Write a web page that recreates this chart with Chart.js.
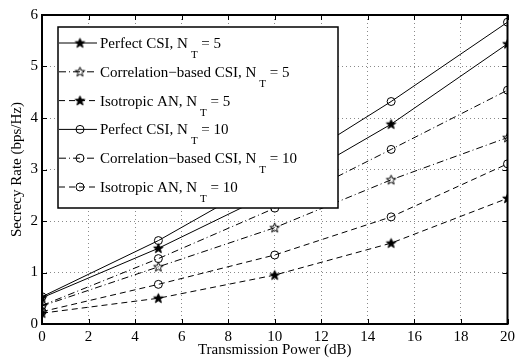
<!DOCTYPE html>
<html>
<head>
<meta charset="utf-8">
<script src="https://cdn.jsdelivr.net/npm/chart.js@4.4.0/dist/chart.umd.min.js"></script>
<style>
  html, body { margin: 0; padding: 0; background: #fff; }
  #contenedor { width: 519px; height: 358px; position: relative; }
</style>
</head>
<body>
<div id="contenedor"><canvas id="grafico"></canvas></div>
<script>
// Datos (potencia en dB, tasa en bps/Hz)
const potencia = [0, 5, 10, 15, 20];
const perfecto5 = [0.51, 1.47, 2.57, 3.88, 5.44];
const correlacion5 = [0.35, 1.11, 1.87, 2.80, 3.62];
const isotropico5 = [0.21, 0.50, 0.95, 1.57, 2.44];
const perfecto10 = [0.53, 1.62, 2.90, 4.32, 5.86];
const correlacion10 = [0.36, 1.27, 2.25, 3.39, 4.54];
const isotropico10 = [0.24, 0.77, 1.34, 2.08, 3.11];

const ticksX = [0, 2, 4, 6, 8, 10, 12, 14, 16, 18, 20];
const ticksY = [0, 1, 2, 3, 4, 5, 6];

const nombres = ['Perfect CSI', 'Correlation\u2212based CSI', 'Isotropic AN',
                 'Perfect CSI', 'Correlation\u2212based CSI', 'Isotropic AN'];
const antenas = ['5', '5', '5', '10', '10', '10'];

const FUENTE = "'Liberation Serif', 'Times New Roman', serif";
const LINEA_PUNTO = [7, 3, 1, 3];
const GUIONES = [6, 4];

// Estrella de cinco puntas (pentagram de MATLAB)
function crearEstrella(relleno) {
    const c = document.createElement('canvas');
    c.width = 13; c.height = 13;
    const g = c.getContext('2d');
    g.beginPath();
    for (let i = 0; i < 10; i++) {
        const r = i % 2 === 0 ? 5.0 : 2.1;
        const a = -Math.PI / 2 + i * Math.PI / 5;
        const px = 6.5 + r * Math.cos(a), py = 6.8 + r * Math.sin(a);
        if (i === 0) g.moveTo(px, py); else g.lineTo(px, py);
    }
    g.closePath();
    if (relleno) { g.fillStyle = '#000'; g.fill(); }
    g.strokeStyle = '#000'; g.lineWidth = 1; g.stroke();
    return c;
}
const estrellaLlena = crearEstrella(true);
const estrellaVacia = crearEstrella(false);

function serie(valores, dash, marcador) {
    return {
        data: potencia.map((x, i) => ({ x: x, y: valores[i] })),
        borderColor: '#000',
        borderWidth: 1,
        borderDash: dash,
        backgroundColor: 'rgba(0,0,0,0)',
        pointStyle: marcador,
        pointRadius: 4,
        pointBorderColor: '#000',
        pointBackgroundColor: 'rgba(0,0,0,0)',
        pointBorderWidth: 1,
        tension: 0
    };
}

const datasets = [
    serie(perfecto5, [], estrellaLlena),
    serie(correlacion5, LINEA_PUNTO, estrellaVacia),
    serie(isotropico5, GUIONES, estrellaLlena),
    serie(perfecto10, [], 'circle'),
    serie(correlacion10, LINEA_PUNTO, 'circle'),
    serie(isotropico10, GUIONES, 'circle')
];

// Marco y marcas interiores estilo MATLAB
const marcoPlugin = {
    id: 'marco',
    afterDatasetsDraw(chart) {
        const { ctx, chartArea: a, scales } = chart;
        ctx.save();
        ctx.strokeStyle = '#000';
        ctx.lineWidth = 1;
        ticksX.forEach(v => {
            const px = Math.round(scales.x.getPixelForValue(v)) + 0.5;
            ctx.beginPath();
            ctx.moveTo(px, a.bottom); ctx.lineTo(px, a.bottom - 5);
            ctx.moveTo(px, a.top); ctx.lineTo(px, a.top + 5);
            ctx.stroke();
        });
        ticksY.forEach(v => {
            const py = Math.round(scales.y.getPixelForValue(v)) + 0.5;
            ctx.beginPath();
            ctx.moveTo(a.left, py); ctx.lineTo(a.left + 5, py);
            ctx.moveTo(a.right, py); ctx.lineTo(a.right - 5, py);
            ctx.stroke();
        });
        ctx.lineWidth = 2;
        ctx.strokeRect(a.left, a.top, a.right - a.left, a.bottom - a.top);
        ctx.restore();
    }
};

// Leyenda con subíndice N_T
const leyendaPlugin = {
    id: 'leyendaCaja',
    afterDraw(chart) {
        const { ctx, chartArea: a } = chart;
        const izq = a.left + 16, arriba = a.top + 12;
        const ancho = 280, alto = 181, paso = 28.8;
        ctx.save();
        ctx.fillStyle = '#fff';
        ctx.fillRect(izq, arriba, ancho, alto);
        ctx.strokeStyle = '#000';
        ctx.lineWidth = 1.5;
        ctx.strokeRect(izq, arriba, ancho, alto);

        datasets.forEach((ds, i) => {
            const y = arriba + 16 + i * paso;
            ctx.lineWidth = 1;
            ctx.setLineDash(ds.borderDash);
            ctx.beginPath();
            ctx.moveTo(izq + 1, y); ctx.lineTo(izq + 39, y);
            ctx.stroke();
            ctx.setLineDash([]);
            const mx = izq + 22;
            if (ds.pointStyle === 'circle') {
                ctx.beginPath();
                ctx.arc(mx, y, 4, 0, Math.PI * 2);
                ctx.stroke();
            } else {
                ctx.drawImage(ds.pointStyle, mx - 6.5, y - 6.5);
            }

            ctx.fillStyle = '#000';
            ctx.textBaseline = 'alphabetic';
            ctx.textAlign = 'left';
            let tx = izq + 42;
            const base = y + 5;
            ctx.font = '15px ' + FUENTE;
            const t1 = nombres[i] + ', N';
            ctx.fillText(t1, tx, base);
            tx += ctx.measureText(t1).width + 3;
            ctx.font = '11px ' + FUENTE;
            ctx.fillText('T', tx, base + 10);
            tx += ctx.measureText('T').width;
            ctx.font = '15px ' + FUENTE;
            ctx.fillText(' = ' + antenas[i], tx, base);
        });
        ctx.restore();
    }
};

const ctx = document.getElementById('grafico').getContext('2d');
const miGrafico = new Chart(ctx, {
    type: 'line',
    data: { datasets: datasets },
    options: {
        responsive: true,
        maintainAspectRatio: false,
        animation: false,
        layout: { padding: { left: 0, top: 15, right: 7, bottom: 0 } },
        plugins: {
            legend: { display: false },
            tooltip: { enabled: false }
        },
        scales: {
            x: {
                type: 'linear',
                min: 0, max: 20,
                afterFit: (s) => { s.height = 34; },
                afterBuildTicks: (s) => { s.ticks = ticksX.map(v => ({ value: v })); },
                ticks: { color: '#000', padding: 4, font: { family: FUENTE, size: 15 } },
                grid: { color: '#8a8a8a', lineWidth: 1, drawTicks: false },
                border: { display: false, dash: [1, 3] },
                title: {
                    display: true, text: 'Transmission Power (dB)', color: '#000',
                    font: { family: FUENTE, size: 15, lineHeight: 1 }, padding: { top: 0, bottom: 0 }
                }
            },
            y: {
                type: 'linear',
                min: 0, max: 6,
                afterFit: (s) => { s.width = 42; },
                afterBuildTicks: (s) => { s.ticks = ticksY.map(v => ({ value: v })); },
                ticks: { color: '#000', padding: 4, font: { family: FUENTE, size: 15 } },
                grid: { color: '#8a8a8a', lineWidth: 1, drawTicks: false },
                border: { display: false, dash: [1, 3] },
                title: {
                    display: true, text: 'Secrecy Rate (bps/Hz)', color: '#000',
                    font: { family: FUENTE, size: 15, lineHeight: 1 }, padding: { top: 10, bottom: 0 }
                }
            }
        }
    },
    plugins: [marcoPlugin, leyendaPlugin]
});

window.miGrafico = miGrafico;
</script>
</body>
</html>
